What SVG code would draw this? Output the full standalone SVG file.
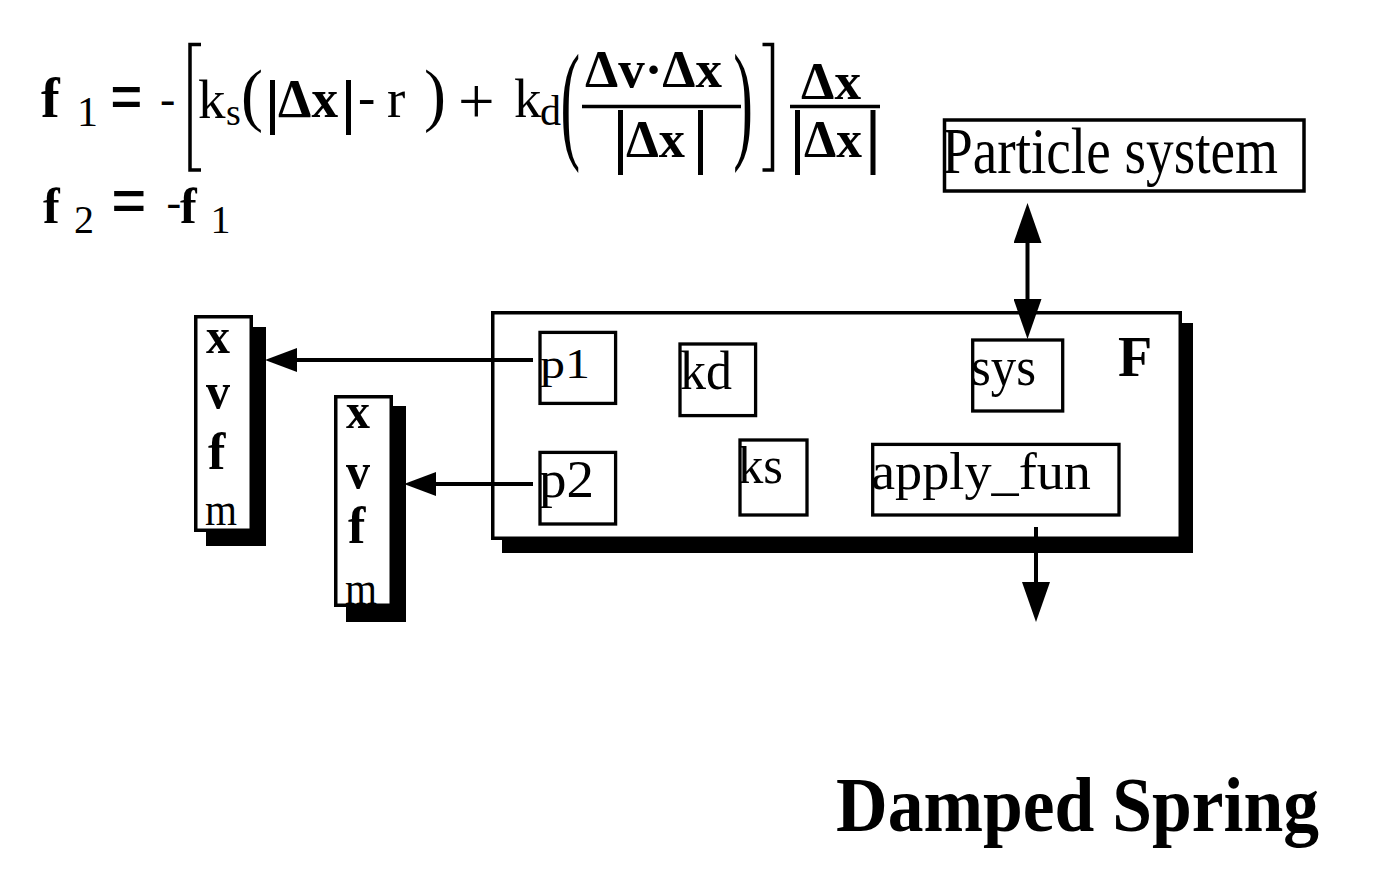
<svg xmlns="http://www.w3.org/2000/svg" width="1378" height="874" viewBox="0 0 1378 874">
<style>
.t{font-family:'Liberation Serif','Times New Roman',serif;fill:#000}
.b{font-weight:bold}
.box{fill:#fff;stroke:#000;stroke-width:3.5}
.sh{fill:#000}
.ib{fill:#fff;stroke:#000;stroke-width:3.3}
.conn{stroke:#000;stroke-width:4;fill:none}
.rule{stroke:#000;stroke-width:3.5;fill:none}
.bar{stroke:#000;stroke-width:5;fill:none}
</style>
<defs>
<marker id="ah" markerUnits="userSpaceOnUse" viewBox="0 -12 32 24" markerWidth="32" markerHeight="24" refX="0" refY="0" orient="auto"><path d="M0,-12 L32,0 L0,12 z" fill="#000"/></marker>
<marker id="av" markerUnits="userSpaceOnUse" viewBox="0 -14 40 28" markerWidth="40" markerHeight="28" refX="0" refY="0" orient="auto-start-reverse"><path d="M0,-14 L40,0 L0,14 z" fill="#000"/></marker>
</defs>
<rect width="1378" height="874" fill="#fff"/>

<g id="equation">
  <text class="t b" x="41" y="117" font-size="56">f</text>
  <text class="t" x="77" y="126" font-size="42">1</text>
  <text class="t b" x="110" y="122" font-size="74" textLength="33" lengthAdjust="spacingAndGlyphs">=</text>
  <text class="t" x="160" y="114" font-size="46">-</text>
  <path class="rule" d="M201,44.5 H190 V170 H201"/>
  <text class="t" x="198" y="118" font-size="55">k</text>
  <text class="t" x="226" y="125" font-size="38">s</text>
  <text class="t" x="241" y="117.6" font-size="70" textLength="22" lengthAdjust="spacingAndGlyphs">(</text>
  <line class="bar" x1="272.5" y1="80" x2="272.5" y2="135"/>
  <text class="t b" x="278" y="116.7" font-size="55" textLength="60" lengthAdjust="spacingAndGlyphs">Δx</text>
  <line class="bar" x1="348.5" y1="80" x2="348.5" y2="135"/>
  <text class="t" x="358" y="114.7" font-size="52">-</text>
  <text class="t" x="387" y="116.7" font-size="55">r</text>
  <text class="t" x="424" y="117.6" font-size="70" textLength="22" lengthAdjust="spacingAndGlyphs">)</text>
  <text class="t" x="458" y="123" font-size="65">+</text>
  <text class="t" x="514" y="116.7" font-size="55">k</text>
  <text class="t" x="540" y="125" font-size="42">d</text>
  <text class="t" transform="translate(560.5,145) scale(1,2.22)" font-size="59">(</text>
  <text class="t b" x="585" y="87" font-size="52" textLength="137" lengthAdjust="spacingAndGlyphs">Δv·Δx</text>
  <line class="rule" x1="582" y1="106.5" x2="741" y2="106.5"/>
  <line class="bar" x1="620.5" y1="110" x2="620.5" y2="175"/>
  <text class="t b" x="626" y="157" font-size="52" textLength="59" lengthAdjust="spacingAndGlyphs">Δx</text>
  <line class="bar" x1="700.5" y1="110" x2="700.5" y2="175"/>
  <text class="t" transform="translate(733.3,145) scale(1,2.22)" font-size="59">)</text>
  <path class="rule" d="M762.5,44.5 H772.5 V170 H762.5"/>
  <text class="t b" x="801" y="99" font-size="52" textLength="60" lengthAdjust="spacingAndGlyphs">Δx</text>
  <line class="rule" x1="790" y1="106.5" x2="880" y2="106.5"/>
  <line class="bar" x1="797.5" y1="110" x2="797.5" y2="175"/>
  <text class="t b" x="804" y="157" font-size="52" textLength="58" lengthAdjust="spacingAndGlyphs">Δx</text>
  <line class="bar" x1="873" y1="110" x2="873" y2="175"/>

  <text class="t b" x="43" y="223" font-size="50">f</text>
  <text class="t" x="74" y="233" font-size="40">2</text>
  <text class="t b" x="111" y="226" font-size="74" textLength="36" lengthAdjust="spacingAndGlyphs">=</text>
  <text class="t" x="166.5" y="217" font-size="44">-</text>
  <text class="t b" x="180" y="223" font-size="50">f</text>
  <text class="t" x="210.5" y="233" font-size="40">1</text>
</g>

<g id="particle-system">
  <rect class="box" x="944.5" y="120" width="359.5" height="71"/>
  <text class="t" x="942" y="173" font-size="66" textLength="336" lengthAdjust="spacingAndGlyphs">Particle system</text>
</g>

<g id="particle1">
  <rect class="sh" x="206" y="327" width="60" height="219"/>
  <rect class="box" x="195.75" y="316.75" width="55.5" height="213.5"/>
  <text class="t b" x="206" y="353" font-size="50" textLength="24" lengthAdjust="spacingAndGlyphs">x</text>
  <text class="t b" x="206" y="408" font-size="50" textLength="24" lengthAdjust="spacingAndGlyphs">v</text>
  <text class="t b" x="208" y="469" font-size="52">f</text>
  <text class="t" x="205" y="525" font-size="46" textLength="32" lengthAdjust="spacingAndGlyphs">m</text>
</g>

<g id="particle2">
  <rect class="sh" x="346" y="406" width="60" height="216"/>
  <rect class="box" x="335.75" y="396.75" width="55.5" height="208.5"/>
  <text class="t b" x="346" y="428" font-size="50" textLength="24" lengthAdjust="spacingAndGlyphs">x</text>
  <text class="t b" x="346" y="488" font-size="50" textLength="24" lengthAdjust="spacingAndGlyphs">v</text>
  <text class="t b" x="348" y="543" font-size="52">f</text>
  <text class="t" x="345" y="604" font-size="46" textLength="32" lengthAdjust="spacingAndGlyphs">m</text>
</g>

<g id="force">
  <rect class="sh" x="502" y="323" width="691" height="230"/>
  <rect class="box" x="492.75" y="312.75" width="687.5" height="225.5"/>
  <text class="t b" x="1118" y="376" font-size="56">F</text>
</g>

<g id="p1">
  <rect class="ib" x="540" y="332.4" width="75.6" height="71"/>
  <text class="t" x="540" y="377.5" font-size="42" textLength="50" lengthAdjust="spacingAndGlyphs">p1</text>
</g>
<g id="p2">
  <rect class="ib" x="540" y="452.4" width="75.6" height="71.6"/>
  <text class="t" x="539" y="497" font-size="52" textLength="55" lengthAdjust="spacingAndGlyphs">p2</text>
</g>
<g id="kd">
  <rect class="ib" x="680" y="344" width="75.6" height="71.6"/>
  <text class="t" x="680" y="389" font-size="54" textLength="52" lengthAdjust="spacingAndGlyphs">kd</text>
</g>
<g id="ks">
  <rect class="ib" x="740" y="440" width="67" height="75"/>
  <text class="t" x="738" y="483" font-size="53" textLength="45" lengthAdjust="spacingAndGlyphs">ks</text>
</g>
<g id="sys">
  <rect class="ib" x="972.7" y="340" width="90" height="71"/>
  <text class="t" x="971" y="385" font-size="55" textLength="65" lengthAdjust="spacingAndGlyphs">sys</text>
</g>
<g id="apply_fun">
  <rect class="ib" x="872.7" y="444.4" width="246.3" height="70.6"/>
  <text class="t" x="871" y="489" font-size="52" textLength="220" lengthAdjust="spacingAndGlyphs">apply_fun</text>
</g>

<g id="connectors">
  <path class="conn" d="M533,360 H297" marker-end="url(#ah)"/>
  <path class="conn" d="M533,484 H436" marker-end="url(#ah)"/>
  <path class="conn" d="M1036,527 V582" marker-end="url(#av)"/>
  <path class="conn" d="M1027.5,243 V299" marker-start="url(#av)" marker-end="url(#av)"/>
</g>

<g id="title">
  <text class="t b" x="836" y="831" font-size="78" textLength="483" lengthAdjust="spacingAndGlyphs">Damped Spring</text>
</g>
</svg>
